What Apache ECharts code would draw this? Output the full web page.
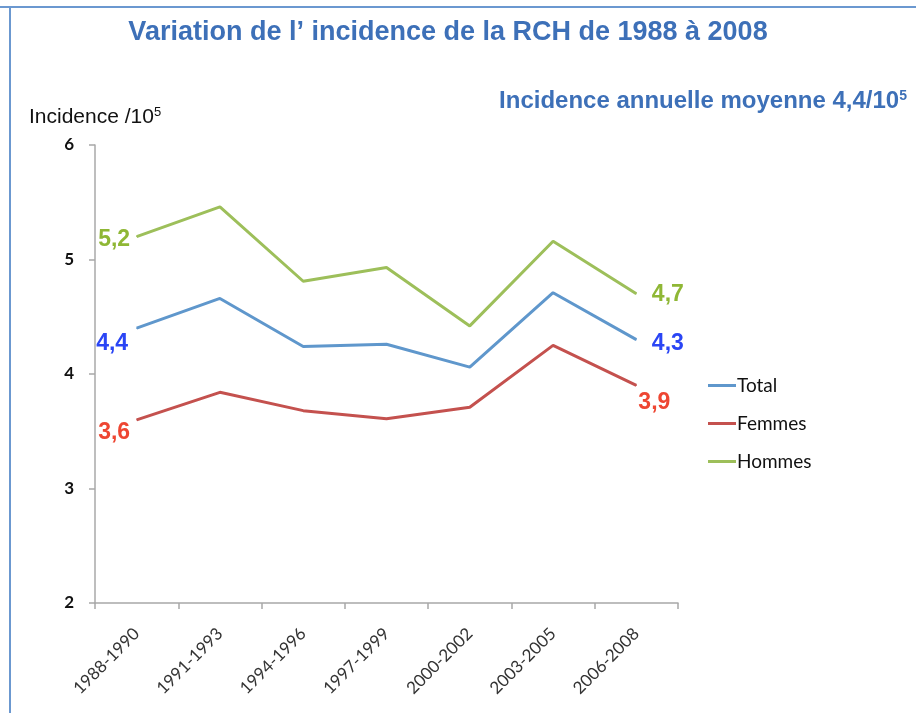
<!DOCTYPE html>
<html>
<head>
<meta charset="utf-8">
<script src="https://cdn.jsdelivr.net/npm/echarts@6/dist/echarts.min.js"></script>
<style>
  html, body { margin: 0; padding: 0; background: #fff; }
  #chart { width: 916px; height: 713px; }
</style>
</head>
<body>
<div id="chart"></div>
<script>
var categories = ['1988-1990', '1991-1993', '1994-1996', '1997-1999', '2000-2002', '2003-2005', '2006-2008'];
var totalValues = [4.4, 4.66, 4.24, 4.26, 4.06, 4.71, 4.3];
var femmesValues = [3.6, 3.84, 3.68, 3.61, 3.71, 4.25, 3.9];
var hommesValues = [5.2, 5.46, 4.81, 4.93, 4.42, 5.16, 4.7];
var yTicks = [2, 3, 4, 5, 6];

(function () {
  var chart = echarts.init(document.getElementById('chart'));
  var TITLE_BLUE = '#3d70b8';

  function fmt(v) {
    return v.toFixed(1).replace('.', ',');
  }

  // only first and last points carry a value label
  function buildData(values, labelColor, firstLabel, lastLabel) {
    return values.map(function (v, i) {
      var item = { value: v };
      var cfg = i === 0 ? firstLabel : (i === values.length - 1 ? lastLabel : null);
      if (cfg) {
        item.label = Object.assign({
          show: true,
          color: labelColor,
          fontFamily: 'Liberation Sans, Arial, sans-serif',
          fontWeight: 'bold',
          fontSize: 23,
          formatter: function (p) { return fmt(p.value); }
        }, cfg);
      }
      return item;
    });
  }

  function lineSeries(name, values, lineColor, labelColor, firstLabel, lastLabel) {
    return {
      name: name,
      type: 'line',
      symbol: 'circle',
      symbolSize: 1,
      showSymbol: true,
      data: buildData(values, labelColor, firstLabel, lastLabel),
      lineStyle: { color: lineColor, width: 3 },
      itemStyle: { color: lineColor },
      emphasis: { disabled: true }
    };
  }

  var option = {
    animation: false,
    backgroundColor: '#fff',
    title: [
      {
        text: 'Variation de l\u2019 incidence de la RCH de 1988 à 2008',
        left: 443,
        top: 14,
        textAlign: 'center',
        textStyle: {
          color: TITLE_BLUE,
          fontFamily: 'Liberation Sans Narrow, Arial Narrow, Liberation Sans, sans-serif',
          fontWeight: 'bold',
          fontSize: 27
        }
      },
      {
        text: '{a|Incidence annuelle moyenne 4,4/10}{s|5}',
        right: 4,
        top: 84,
        textStyle: {
          rich: {
            a: {
              color: TITLE_BLUE,
              fontFamily: 'Liberation Sans Narrow, Arial Narrow, Liberation Sans, sans-serif',
              fontWeight: 'bold',
              fontSize: 24
            },
            s: {
              color: TITLE_BLUE,
              fontFamily: 'Liberation Sans, Arial, sans-serif',
              fontWeight: 'bold',
              fontSize: 14,
              padding: [0, 0, 10, 0]
            }
          }
        }
      },
      {
        text: '{a|Incidence /10}{s|5}',
        left: 24,
        top: 101,
        textStyle: {
          fontWeight: 'normal',
          rich: {
            a: {
              color: '#111',
              fontFamily: 'Liberation Sans Narrow, Arial Narrow, Liberation Sans, sans-serif',
              fontWeight: 'normal',
              fontSize: 21
            },
            s: {
              color: '#111',
              fontFamily: 'Liberation Sans, Arial, sans-serif',
              fontWeight: 'normal',
              fontSize: 13,
              padding: [0, 0, 10, 0]
            }
          }
        }
      }
    ],
    graphic: [
      { type: 'line', shape: { x1: 0, y1: 7, x2: 916, y2: 7 }, style: { stroke: '#6b98d0', lineWidth: 2 } },
      { type: 'line', shape: { x1: 10, y1: 7, x2: 10, y2: 713 }, style: { stroke: '#6b98d0', lineWidth: 2 } }
    ],
    legend: {
      orient: 'vertical',
      left: 703,
      top: 371,
      itemGap: 19,
      itemWidth: 28,
      itemHeight: 3,
      icon: 'rect',
      textStyle: {
        color: '#111',
        fontFamily: 'Lato, Open Sans, sans-serif',
        fontSize: 19,
        padding: [0, 0, 0, -4]
      },
      data: ['Total', 'Femmes', 'Hommes']
    },
    grid: {
      left: 95,
      right: 238,
      top: 145,
      bottom: 110,
      containLabel: false
    },
    xAxis: {
      type: 'category',
      data: categories,
      boundaryGap: true,
      axisLine: { lineStyle: { color: '#a8a8a8', width: 1.5 } },
      axisTick: { show: true, length: 6, lineStyle: { color: '#a8a8a8', width: 1.5 } },
      axisLabel: {
        rotate: 45,
        color: '#333',
        fontFamily: 'Lato, Open Sans, sans-serif',
        fontSize: 17,
        margin: 28
      }
    },
    yAxis: {
      type: 'value',
      min: yTicks[0],
      max: yTicks[yTicks.length - 1],
      interval: 1,
      axisLine: { show: true, lineStyle: { color: '#a8a8a8', width: 1.5 } },
      axisTick: { show: true, length: 6, lineStyle: { color: '#a8a8a8', width: 1.5 } },
      splitLine: { show: false },
      axisLabel: {
        color: '#111',
        fontFamily: 'Lato, Open Sans, sans-serif',
        fontWeight: 'bold',
        fontSize: 17,
        margin: 21
      }
    },
    series: [
      lineSeries('Total', totalValues, '#5f97cc', '#2a45f5',
        { position: 'left', distance: 8, offset: [0, 15] },
        { position: 'right', distance: 15, offset: [0, 4] }),
      lineSeries('Femmes', femmesValues, '#c4514e', '#ee4632',
        { position: 'left', distance: 6, offset: [0, 13] },
        { position: 'bottom', distance: 5, offset: [18, 0] }),
      lineSeries('Hommes', hommesValues, '#9dbf5a', '#8fb735',
        { position: 'left', distance: 6, offset: [0, 3] },
        { position: 'right', distance: 15, offset: [0, 1] })
    ]
  };

  chart.setOption(option);
})();
</script>
</body>
</html>
